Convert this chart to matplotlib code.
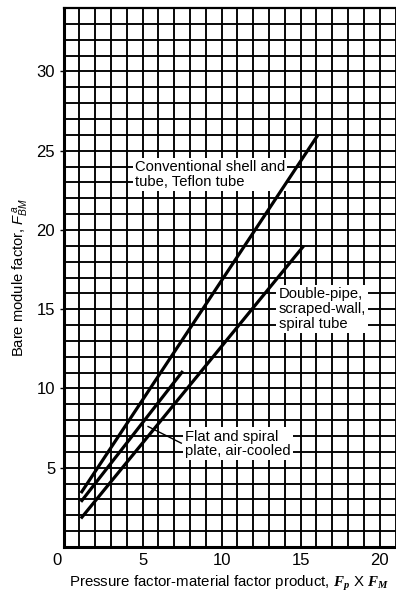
import numpy as np
import matplotlib
matplotlib.use("Agg")
import matplotlib.pyplot as plt

plt.rcParams['font.family'] = ['Liberation Sans', 'DejaVu Sans']
plt.rcParams['mathtext.fontset'] = 'custom'
plt.rcParams['mathtext.it'] = 'Liberation Sans:italic'
plt.rcParams['mathtext.rm'] = 'Liberation Sans'
plt.rcParams['mathtext.bfit'] = 'Liberation Serif:italic:bold'

# bare module factor vs Fp*Fm for three exchanger types (straight lines, end points)
conv_x = [1.1, 16.1]
conv_y = [3.4, 26.0]
dpipe_x = [1.1, 15.2]
dpipe_y = [1.8, 19.0]
flat_x = [1.1, 7.55]
flat_y = [2.85, 11.1]

xticks = [5, 10, 15, 20]
yticks = [5, 10, 15, 20, 25, 30]

fig = plt.figure(figsize=(3.96, 5.93), dpi=100)
ax = fig.add_axes([63.5/396, 46/593, (395.5-63.5)/396, 539/593])
ax.set_xlim(0, 21)
ax.set_ylim(0, 34)

# 1-unit grid paper
for gx in range(1, 22):
    ax.axvline(gx, color='black', lw=1.35, zorder=1)
for gy in range(1, 35):
    ax.axhline(gy, color='black', lw=1.35, zorder=1)

ax.plot(conv_x, conv_y, color='black', lw=2.3, solid_capstyle='butt', zorder=3)
ax.plot(dpipe_x, dpipe_y, color='black', lw=2.3, solid_capstyle='butt', zorder=3)
ax.plot(flat_x, flat_y, color='black', lw=2.3, solid_capstyle='butt', zorder=3)

box = dict(facecolor='white', edgecolor='none', pad=1.5)
ax.text(4.5, 23.5, 'Conventional shell and\ntube, Teflon tube', fontsize=10.6,
        ha='left', va='center', linespacing=1.08, bbox=box, zorder=2)
ax.text(13.6, 15.0, 'Double-pipe,\nscraped-wall,\nspiral tube', fontsize=10.6,
        ha='left', va='center', linespacing=1.08, bbox=box, zorder=2)
ax.text(7.7, 6.5, 'Flat and spiral\nplate, air-cooled', fontsize=10.6,
        ha='left', va='center', linespacing=1.08, bbox=box, zorder=2)
# leader from the flat-plate label back to its line
ax.plot([7.45, 5.35], [6.55, 7.6], color='black', lw=1.0, zorder=3)

ax.set_xticks(xticks)
ax.set_yticks(yticks)
ax.tick_params(axis='x', length=0, pad=4, labelsize=12)
ax.tick_params(axis='y', length=3, width=1, pad=3, labelsize=12)
ax.text(-0.4, -0.4, '0', ha='center', va='top', fontsize=12,
        transform=ax.transData, clip_on=False)

for s in ['left', 'bottom']:
    ax.spines[s].set_linewidth(2.2)
ax.spines['top'].set_linewidth(1.6)
ax.spines['right'].set_visible(False)

ax.set_ylabel(r'Bare module factor, $F^{\,a}_{BM}$', fontsize=10.6, labelpad=4)
ax.set_xlabel(r'Pressure factor-material factor product, $\mathbfit{F_p}$ X $\mathbfit{F_M}$',
              fontsize=10.8, labelpad=2)
ax.xaxis.set_label_coords(0.5, -0.05)

fig.savefig('out.png', dpi=100)
